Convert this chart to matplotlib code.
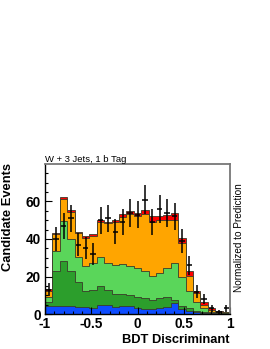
import numpy as np
from matplotlib import pyplot as plt

plt.rcParams['font.family'] = ['Liberation Sans', 'DejaVu Sans']
plt.rcParams['axes.unicode_minus'] = False

# 25 bins of BDT output between -1 and 1
edges = np.linspace(-1, 1, 26)

# stacked predictions, bottom to top
blue = [4.3, 4.4, 4.1, 4.1, 3.7, 3.7, 3.2, 4.6, 4.6, 3.7, 4.4, 4.1, 3.2,
        2.8, 2.8, 3.2, 3.7, 5.9, 2.8, 1.8, 1.1, 0.5, 0.3, 0.2, 0.1]
dark_green = [2.2, 18.7, 24.4, 19.0, 13.6, 8.8, 9.6, 10.4, 8.2, 6.8, 6.1, 6.0, 6.1,
              5.6, 4.7, 5.2, 5.6, 1.6, 1.7, 1.2, 0.7, 0.5, 0.3, 0.2, 0.2]
light_green = [2.8, 10.7, 21.0, 16.9, 13.3, 13.0, 14.6, 15.3, 14.6, 15.7, 16.2, 15.7, 15.1,
               14.6, 12.8, 13.3, 15.1, 19.9, 15.5, 9.5, 4.8, 2.0, 0.6, 0.4, 0.3]
orange = [3.2, 8.8, 11.9, 14.5, 12.6, 15.3, 14.4, 18.7, 20.9, 22.9, 24.9, 27.8, 28.1,
          30.2, 29.0, 28.2, 25.8, 22.8, 17.8, 7.7, 4.4, 1.8, 0.8, 0.4, 0.3]
red = [0.9, 0.7, 0.9, 0.8, 0.8, 0.7, 0.7, 0.9, 1.0, 1.1, 1.6, 1.6, 1.5,
       2.5, 3.0, 2.4, 2.7, 3.6, 2.7, 2.8, 1.5, 1.8, 1.0, 0.4, 0.3]

# observed events
data = [13, 40, 47, 51, 37, 35, 32, 50, 51, 44, 49, 54, 53,
        61, 49, 56, 54, 52, 39, 26, 12, 8, 3, 1, 3]

layers = [blue, dark_green, light_green, orange, red]
colors = ['#0d4cff', '#2c9e2c', '#5ad65a', '#ffa500', '#ff0000']
tops = np.cumsum(np.array(layers), axis=0)

fig = plt.figure(figsize=(2.70, 3.49), dpi=100)
ax = fig.add_axes([45/270, 1-314/349, 185/270, 150/349])

# draw from the top of the stack down so each layer covers the one above
for top, c in reversed(list(zip(tops, colors))):
    ax.stairs(top, edges, baseline=0, fill=True, facecolor=c,
              edgecolor='#3a3a2a', linewidth=0.6)

centers = 0.5*(edges[:-1] + edges[1:])
ax.errorbar(centers, data, yerr=np.sqrt(data), xerr=0.03, fmt='none',
            ecolor='black', elinewidth=1.1, capsize=0)

ax.set_xlim(-1, 1)
ax.set_ylim(0, 80)
ax.set_xticks([-1, -0.5, 0, 0.5, 1])
ax.set_xticklabels(['-1', '-0.5', '0', '0.5', '1'])
ax.set_xticks(np.arange(-1, 1.01, 0.1), minor=True)
ax.set_yticks([0, 20, 40, 60])
ax.set_yticks(np.arange(0, 80, 5), minor=True)
ax.tick_params(which='both', direction='in', top=False, right=False,
               labelsize=9.8, width=0.8)
ax.tick_params(which='major', length=5)
ax.tick_params(which='minor', length=2.5)
ax.tick_params(axis='y', pad=3)
ax.tick_params(axis='x', pad=2.5)
for lab in ax.get_xticklabels() + ax.get_yticklabels():
    lab.set_fontweight('bold')

for s in ['left', 'bottom']:
    ax.spines[s].set_color('black')
    ax.spines[s].set_linewidth(1.0)
for s in ['top', 'right']:
    ax.spines[s].set_color('#777777')
    ax.spines[s].set_linewidth(1.3)

fig.text(45/270, 1-162/349, 'W + 3 Jets, 1 b Tag', fontsize=6.8, ha='left', va='baseline')
fig.text(8/270, 1-163/349, 'Candidate Events', fontsize=9.3, fontweight='bold',
         rotation=90, ha='center', va='top')
fig.text(230/270, 1-343/349, 'BDT Discriminant', fontsize=9.3, fontweight='bold',
         ha='right', va='baseline')
fig.text(239.5/270, 1-238/349, 'Normalized to Prediction', fontsize=7.2,
         rotation=90, ha='center', va='center')

fig.savefig('out.png', dpi=100)
